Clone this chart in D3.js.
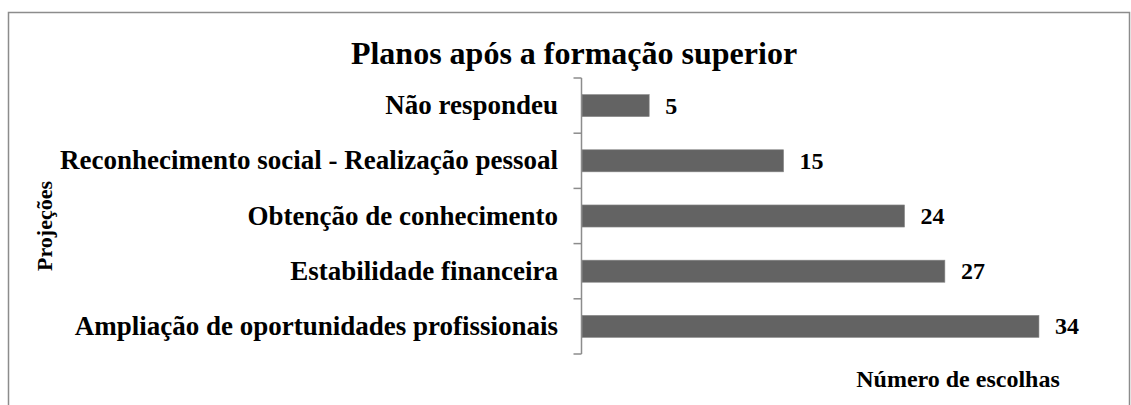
<!DOCTYPE html>
<html>
<head>
<meta charset="utf-8">
<script src="https://cdn.jsdelivr.net/npm/d3@7"></script>
<style>
  body { margin: 0; background: #fff; }
  text { font-family: "Liberation Serif", "Times New Roman", serif; font-weight: bold; fill: #000; }
</style>
</head>
<body>
<div id="chart"></div>
<script>
// data, top to bottom as in the picture
var categories = [
  "Não respondeu",
  "Reconhecimento social - Realização pessoal",
  "Obtenção de conhecimento",
  "Estabilidade financeira",
  "Ampliação de oportunidades profissionais"
];
var values = [5, 15, 24, 27, 34];
var title = "Planos após a formação superior";
var xTitle = "Número de escolhas";
var yTitle = "Projeções";

var width = 1131, height = 405;

var svg = d3.select("#chart").append("svg")
  .attr("width", width)
  .attr("height", height);

// outer frame
svg.append("rect")
  .attr("x", 8.5).attr("y", 12.5)
  .attr("width", 1121).attr("height", 420)
  .attr("fill", "none")
  .attr("stroke", "#8c8c8c")
  .attr("stroke-width", 1.5);

var x = d3.scaleLinear().domain([0, 40]).range([582, 1119.6]);
var y = d3.scaleBand().domain(categories).range([78, 354]).paddingInner(0.6).paddingOuter(0.3);

var data = categories.map(function(c, i) { return {cat: c, value: values[i]}; });

// bars
svg.selectAll("rect.bar")
  .data(data)
  .enter()
  .append("rect")
    .attr("class", "bar")
    .attr("x", x(0))
    .attr("y", function(d) { return y(d.cat); })
    .attr("width", function(d) { return x(d.value) - x(0); })
    .attr("height", y.bandwidth())
    .attr("fill", "#636363")
    .attr("stroke", "#8a8a8a")
    .attr("stroke-width", 0.6);

// y axis: line with ticks between categories
var axisG = svg.append("g").attr("transform", "translate(581.5,0)");
axisG.append("line")
  .attr("x1", 0).attr("x2", 0)
  .attr("y1", 78).attr("y2", 354)
  .attr("stroke", "#8c8c8c").attr("stroke-width", 1.5);
var tickYs = d3.range(categories.length + 1).map(function(i) { return 78 + i * (276 / categories.length); });
axisG.selectAll("line.tick")
  .data(tickYs)
  .enter()
  .append("line")
    .attr("class", "tick")
    .attr("x1", -8).attr("x2", 0)
    .attr("y1", function(d) { return d; })
    .attr("y2", function(d) { return d; })
    .attr("stroke", "#8c8c8c").attr("stroke-width", 1.5);

// category labels
svg.selectAll("text.cat")
  .data(data)
  .enter()
  .append("text")
    .attr("class", "cat")
    .attr("x", 558)
    .attr("y", function(d) { return y(d.cat) + y.bandwidth() / 2 + 8.5; })
    .attr("text-anchor", "end")
    .style("font-size", "27px")
    .text(function(d) { return d.cat; });

// value labels
svg.selectAll("text.val")
  .data(data)
  .enter()
  .append("text")
    .attr("class", "val")
    .attr("x", function(d) { return x(d.value) + 16; })
    .attr("y", function(d) { return y(d.cat) + y.bandwidth() / 2 + 8; })
    .style("font-size", "24px")
    .text(function(d) { return d.value; });

// title
svg.append("text")
  .attr("x", 574)
  .attr("y", 64)
  .attr("text-anchor", "middle")
  .style("font-size", "32px")
  .text(title);

// axis titles
svg.append("text")
  .attr("x", 958)
  .attr("y", 387)
  .attr("text-anchor", "middle")
  .style("font-size", "24px")
  .text(xTitle);

svg.append("text")
  .attr("transform", "translate(52,226) rotate(-90)")
  .attr("text-anchor", "middle")
  .style("font-size", "22px")
  .text(yTitle);
</script>
</body>
</html>
